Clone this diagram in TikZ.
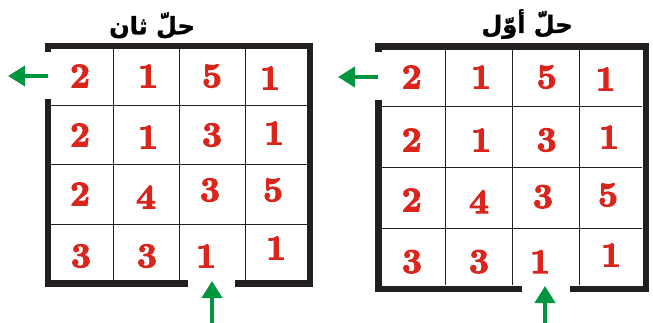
\documentclass[tikz,border=0pt]{standalone}
\usepackage{fontspec}
\usetikzlibrary{arrows.meta}
\TeXXeTstate=1
\newfontfamily\arabicfont[Script=Arabic,FakeBold=1.5]{DejaVuSans-Bold.ttf}
\newfontfamily\digitfont[FakeBold=3]{lmroman10-bold.otf}
\definecolor{wallc}{RGB}{35,31,32}
\definecolor{digitred}{RGB}{218,37,29}
\definecolor{arrowgreen}{RGB}{0,150,64}
\tikzset{
  wall/.style={line width=6.8pt, draw=wallc},
  gridline/.style={line width=1pt, draw=wallc},
  digit/.style={text=digitred, font=\digitfont\fontsize{35}{35}\selectfont, inner sep=0pt},
  titletext/.style={font=\arabicfont\fontsize{24}{28}\selectfont, inner sep=0pt},
  exitarrow/.style={draw=arrowgreen, line width=4pt, -{Triangle[length=17pt,width=20pt]}},
}
\begin{document}
\begin{tikzpicture}[x=1pt,y=-1pt]
\useasboundingbox (0,0) rectangle (653,323);
% ---------- left grid ----------
\foreach \x in {113.7,179.3,245} \draw[gridline] (\x,49) -- (\x,281);
\foreach \y in {105.3,165,224.3} \draw[gridline] (51,\y) -- (307,\y);
\draw[wall] (48,52) -- (48,46) -- (310,46) -- (310,283.5) -- (235,283.5);
\draw[wall] (188,283.5) -- (48,283.5) -- (48,99);
\node[titletext] (ltitle) at (152,25.5) {\beginR حلّ ثان\endR};
\node[digit] (l11) at (80,76) {2};
\node[digit] (l12) at (148,76) {1};
\node[digit] (l13) at (212,76) {5};
\node[digit] (l14) at (270,78) {1};
\node[digit] (l21) at (80,135) {2};
\node[digit] (l22) at (148,137) {1};
\node[digit] (l23) at (212,135) {3};
\node[digit] (l24) at (274,133) {1};
\node[digit] (l31) at (80,194) {2};
\node[digit] (l32) at (146,197) {4};
\node[digit] (l33) at (210,190) {3};
\node[digit] (l34) at (273,190) {5};
\node[digit] (l41) at (81,256) {3};
\node[digit] (l42) at (147,256) {3};
\node[digit] (l43) at (206,256) {1};
\node[digit] (l44) at (276,248) {1};
\coordinate (lexitA) at (48,76);
\coordinate (lexitB) at (8,76);
\coordinate (lentA) at (212,323);
\coordinate (lentB) at (212,281);
\draw[exitarrow] (lexitA) -- (lexitB);
\draw[exitarrow] (lentA) -- (lentB);
% ---------- right grid ----------
\foreach \x in {445.7,512.3,579.3} \draw[gridline] (\x,50) -- (\x,285);
\foreach \y in {106.7,167.7,228.7} \draw[gridline] (382,\y) -- (642,\y);
\draw[wall] (378.5,52) -- (378.5,46.3) -- (646,46.3) -- (646,289) -- (570,289);
\draw[wall] (521.7,289) -- (378.5,289) -- (378.5,100);
\node[titletext] (rtitle) at (527,24) {\beginR حلّ أوّل\endR};
\node[digit] (r11) at (411.7,77) {2};
\node[digit] (r12) at (481,77) {1};
\node[digit] (r13) at (546.7,77) {5};
\node[digit] (r14) at (605.7,79) {1};
\node[digit] (r21) at (411.7,140) {2};
\node[digit] (r22) at (481,140) {1};
\node[digit] (r23) at (546.7,140) {3};
\node[digit] (r24) at (609,137) {1};
\node[digit] (r31) at (411.7,200) {2};
\node[digit] (r32) at (479,201.7) {4};
\node[digit] (r33) at (543,196.7) {3};
\node[digit] (r34) at (608,195) {5};
\node[digit] (r41) at (412,261.7) {3};
\node[digit] (r42) at (479,261.7) {3};
\node[digit] (r43) at (540,261.7) {1};
\node[digit] (r44) at (611,255) {1};
\coordinate (rexitA) at (378,77);
\coordinate (rexitB) at (338,77);
\coordinate (rentA) at (545,323);
\coordinate (rentB) at (545,286);
\draw[exitarrow] (rexitA) -- (rexitB);
\draw[exitarrow] (rentA) -- (rentB);
\end{tikzpicture}
\end{document}
